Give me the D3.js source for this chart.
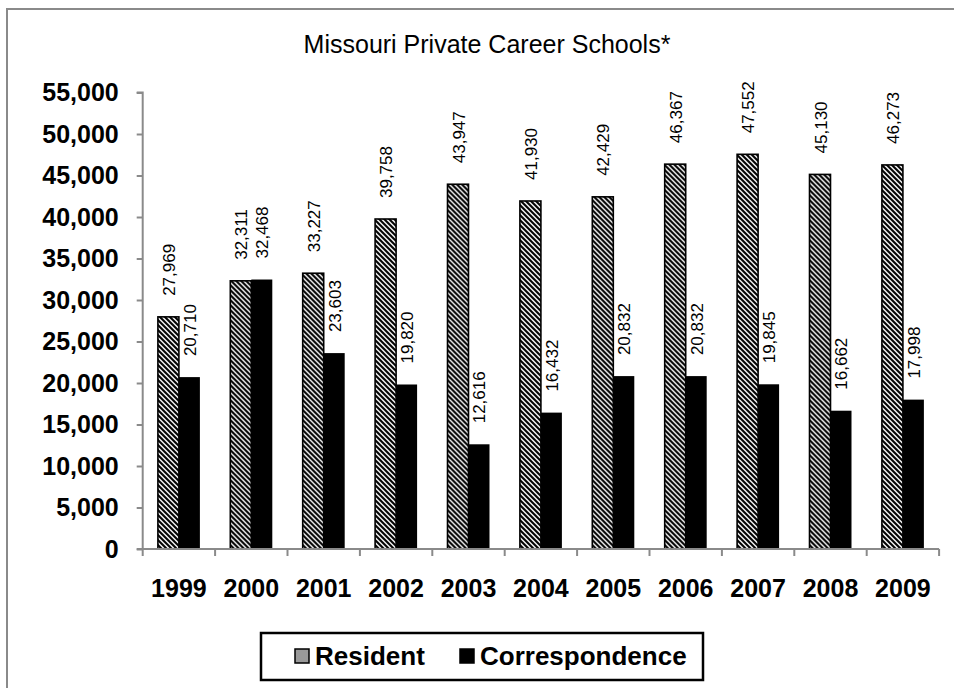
<!DOCTYPE html>
<html>
<head>
<meta charset="utf-8">
<script src="https://cdn.jsdelivr.net/npm/d3@7"></script>
<style>
  html, body { margin: 0; padding: 0; background: #fff; }
  svg { display: block; }
  text { font-family: "Liberation Sans", Arial, sans-serif; fill: #000; }
</style>
</head>
<body>
<svg id="chart" width="954" height="688"></svg>
<script>
const years = ["1999","2000","2001","2002","2003","2004","2005","2006","2007","2008","2009"];
const resident = [27969, 32311, 33227, 39758, 43947, 41930, 42429, 46367, 47552, 45130, 46273];
const correspondence = [20710, 32468, 23603, 19820, 12616, 16432, 20832, 20832, 19845, 16662, 17998];
const seriesNames = ["Resident", "Correspondence"];
const yTicks = [0, 5000, 10000, 15000, 20000, 25000, 30000, 35000, 40000, 45000, 50000, 55000];
const titleText = "Missouri Private Career Schools*";

const svg = d3.select("#chart");
const fmt = d3.format(",");

// defs: stripe pattern
const T = 5;
const defs = svg.append("defs");
const pat = defs.append("pattern")
  .attr("id", "stripes")
  .attr("patternUnits", "userSpaceOnUse")
  .attr("width", T).attr("height", T);
pat.append("rect").attr("width", T).attr("height", T).attr("fill", "#fff");
pat.append("path")
  .attr("d", `M${-T/4},${-T/4} L${T*1.25},${T*1.25} M${-T/4},${T*0.75} L${T/4},${T*1.25} M${T*0.75},${-T/4} L${T*1.25},${T/4}`)
  .attr("stroke", "#000").attr("stroke-width", 2.1);

// outer frame
svg.append("rect")
  .attr("x", 7).attr("y", 9).attr("width", 980).attr("height", 720)
  .attr("fill", "none").attr("stroke", "#8a8a8a").attr("stroke-width", 2);

// title
svg.append("text")
  .attr("x", 487).attr("y", 53)
  .attr("text-anchor", "middle")
  .style("font-size", "25px")
  .text(titleText);

const x0 = 142.7, x1 = 939.1;
const yBottom = 549, yTop = 92.5;

const x = d3.scaleBand().domain(years).range([x0, x1]).paddingInner(0.42).paddingOuter(0.21);
const xInner = d3.scaleBand().domain(seriesNames).range([0, x.bandwidth()]);
const xEdge = d3.scaleBand().domain(years).range([x0, x1]);
const y = d3.scaleLinear().domain([0, 55000]).range([yBottom, yTop]);

// y axis
const yAxis = d3.axisLeft(y).tickValues(yTicks).tickFormat(fmt).tickSize(6).tickPadding(18);
const gy = svg.append("g").attr("transform", `translate(${x0},0)`).call(yAxis);
gy.select(".domain").attr("stroke", "#8a8a8a").attr("stroke-width", 2).attr("d", `M-6,${yBottom}H0V${yTop}H-6`);
gy.selectAll(".tick line").attr("stroke", "#8a8a8a").attr("stroke-width", 2);
gy.selectAll(".tick text")
  .style("font-family", '"Liberation Sans", Arial, sans-serif')
  .style("font-size", "25px").style("font-weight", "bold").attr("fill", "#000");

// bars
const data = years.map((yr, i) => ({ year: yr, vals: [
  { s: "Resident", v: resident[i] },
  { s: "Correspondence", v: correspondence[i] }
]}));

const groups = svg.append("g").selectAll("g").data(data).join("g")
  .attr("transform", d => `translate(${x(d.year)},0)`);

groups.selectAll("rect").data(d => d.vals).join("rect")
  .attr("x", d => xInner(d.s))
  .attr("y", d => y(d.v))
  .attr("width", xInner.bandwidth())
  .attr("height", d => y(0) - y(d.v))
  .attr("fill", d => d.s === "Resident" ? "url(#stripes)" : "#000")
  .attr("stroke", "#000")
  .attr("stroke-width", d => d.s === "Resident" ? 1.6 : 0);

groups.selectAll("text").data(d => d.vals).join("text")
  .attr("transform", d => `translate(${xInner(d.s) + xInner.bandwidth() / 2 + 1},${y(d.v) - 21}) rotate(-90)`)
  .attr("text-anchor", "start")
  .attr("dominant-baseline", "central")
  .style("font-size", "17px")
  .text(d => fmt(d.v));

// x axis
const xAxis = d3.axisBottom(xEdge).tickSize(0).tickPadding(30);
const gx = svg.append("g").attr("transform", `translate(0,${yBottom})`).call(xAxis);
gx.select(".domain").attr("stroke", "#8a8a8a").attr("stroke-width", 2).attr("d", `M${x0},0H${x1}`);
gx.selectAll(".tick text")
  .style("font-family", '"Liberation Sans", Arial, sans-serif')
  .style("font-size", "25px").style("font-weight", "bold").attr("fill", "#000");
// category boundary ticks
const bounds = years.map(yr => xEdge(yr)).concat([x1]);
gx.selectAll("line.bound").data(bounds).join("line")
  .attr("class", "bound")
  .attr("x1", d => d).attr("x2", d => d)
  .attr("y1", 0).attr("y2", 7)
  .attr("stroke", "#8a8a8a").attr("stroke-width", 2);

// legend
const lg = svg.append("g");
lg.append("rect")
  .attr("x", 261).attr("y", 633).attr("width", 442).attr("height", 47)
  .attr("fill", "#fff").attr("stroke", "#000").attr("stroke-width", 2.5);
const legendItems = [
  { name: seriesNames[0], sx: 295, fill: "#999" },
  { name: seriesNames[1], sx: 460, fill: "#000" }
];
legendItems.forEach(it => {
  lg.append("rect")
    .attr("x", it.sx).attr("y", 649).attr("width", 14).attr("height", 14)
    .attr("fill", it.fill).attr("stroke", "#000").attr("stroke-width", 1.5);
  lg.append("text")
    .attr("x", it.sx + 20).attr("y", 665)
    .style("font-size", "26px").style("font-weight", "bold")
    .text(it.name);
});
</script>
</body>
</html>
